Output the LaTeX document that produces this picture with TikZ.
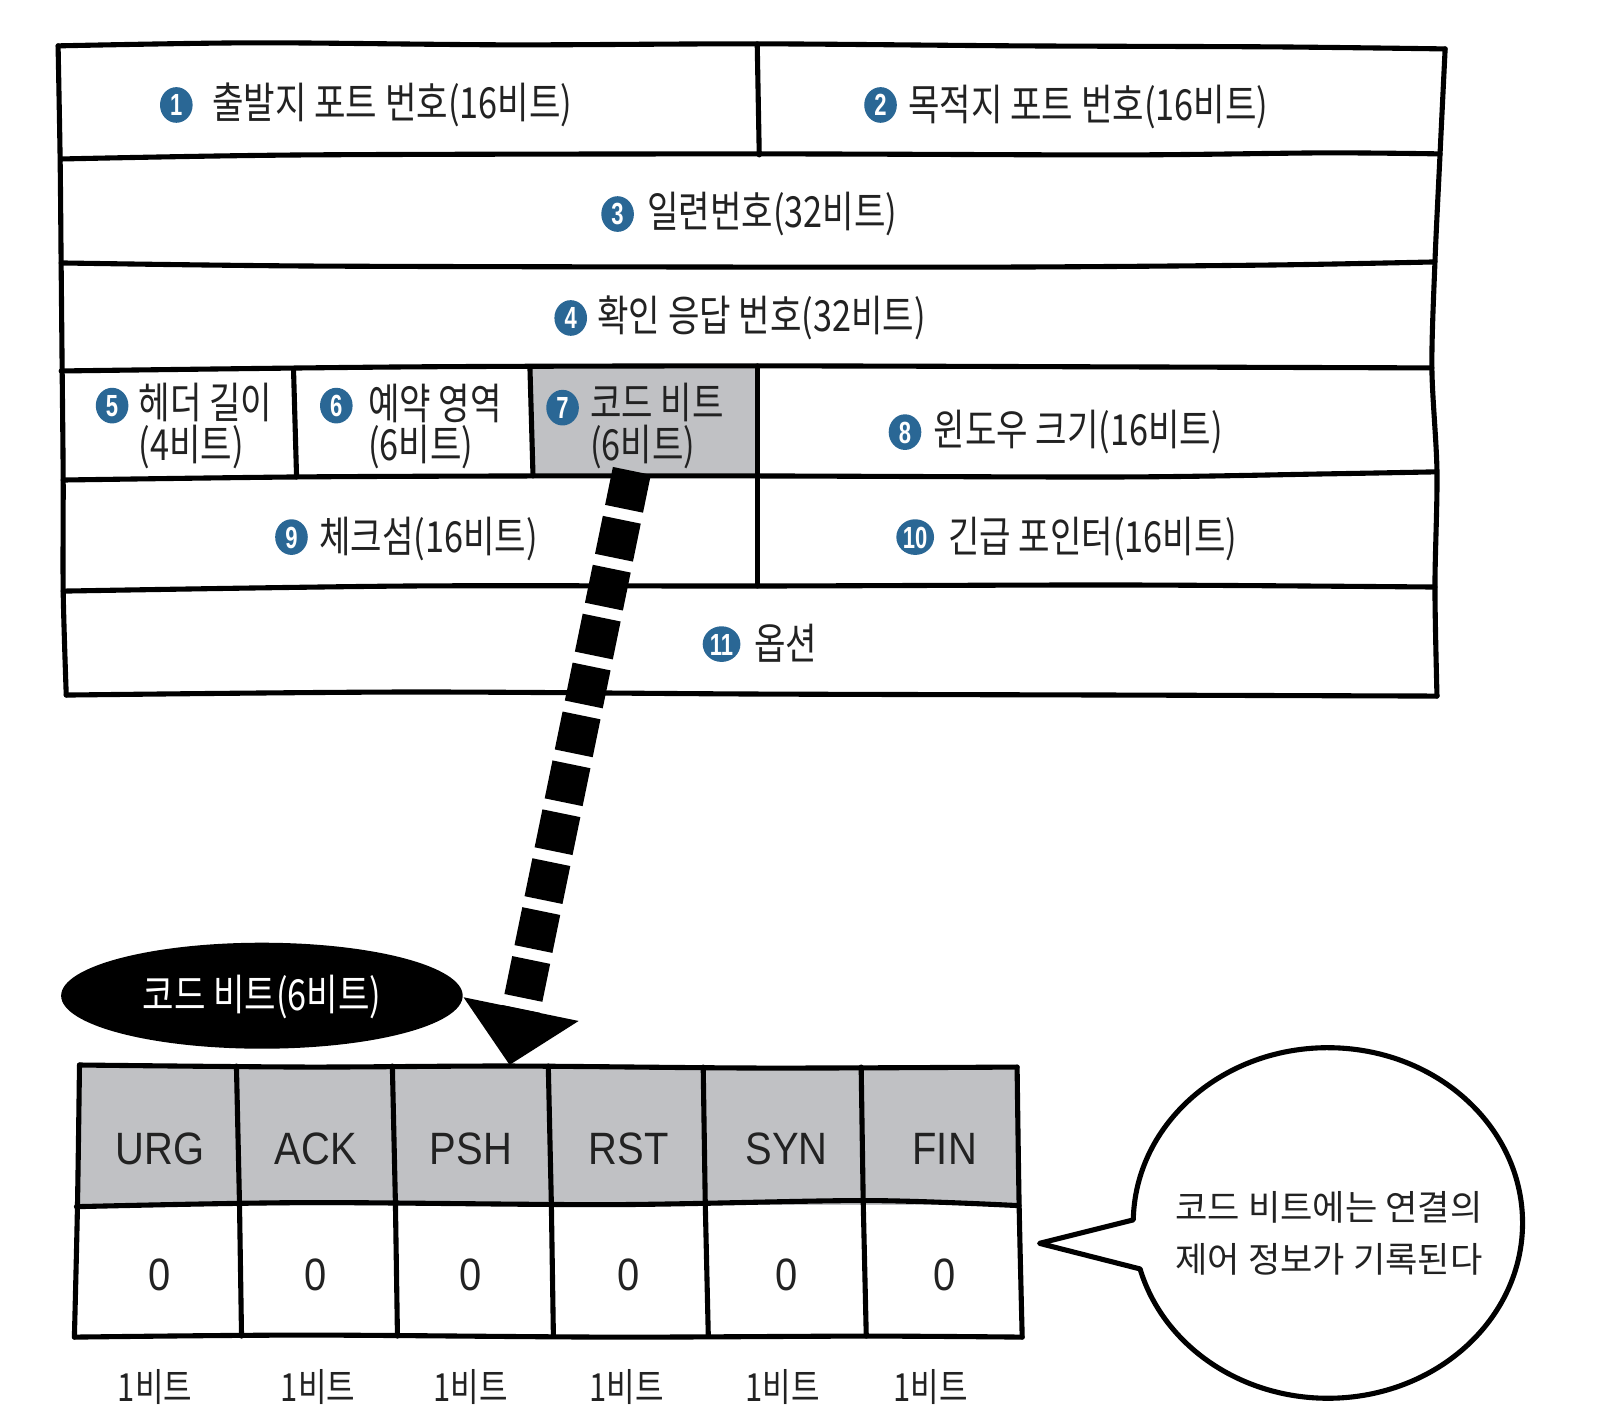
\documentclass[tikz,border=0pt]{standalone}
\usepackage{fontspec}
\usetikzlibrary{arrows.meta,shapes.geometric}
\newfontfamily\krc[FakeStretch=0.8]{Noto Sans CJK KR}
\newfontfamily\kr{Noto Sans CJK KR}
\newfontfamily\hv[FakeStretch=0.88]{Liberation Sans}
\newfontfamily\numf[FakeStretch=0.72]{Liberation Sans}
\definecolor{numblue}{HTML}{2A6795}
\definecolor{cellgrey}{HTML}{C0C1C4}
\definecolor{ink}{HTML}{222222}
\tikzset{
 sketch/.style={line width=5pt, line cap=round, line join=round, draw=black},
 lbl/.style={anchor=west, inner sep=0pt, text=ink, font=\krc\fontsize{42}{48}\selectfont, text height=33pt, text depth=3pt},
 num/.style={ellipse, fill=numblue, text=white, inner sep=0pt, minimum width=32pt, minimum height=35pt, font=\numf\bfseries\fontsize{30}{30}\selectfont, text height=21.5pt, text depth=0pt},
 numw/.style={num, minimum width=37pt},
 flag/.style={text=ink, inner sep=0pt, font=\hv\fontsize{44.5}{44.5}\selectfont, text height=32pt, text depth=0pt},
 bitlbl/.style={text=ink, inner sep=0pt, font=\krc\fontsize{38}{38}\selectfont, text height=30pt, text depth=3pt},
 bubtxt/.style={text=ink, inner sep=0pt, align=center, font=\kr\fontsize{34.5}{51}\selectfont},
 tagell/.style={ellipse, fill=black, text=white, inner sep=0pt, minimum width=394pt, minimum height=104pt, font=\krc\fontsize{42}{42}\selectfont, text height=33pt, text depth=3pt},
 bigarrow/.style={line width=38pt, draw=black, line cap=butt, dash pattern=on 38pt off 11pt, -{Triangle[width=112pt,length=56pt]}},
}
\begin{document}
\begin{tikzpicture}[x=1pt,y=-1pt]
\useasboundingbox (0,0) rectangle (1568,1393);
\fill[white] (0,0) rectangle (1568,1393);

% ---------- TCP header table ----------
\fill[cellgrey] (520,361) -- (743,359) -- (743,468) -- (523,468) -- cycle;
% horizontal lines
\draw[sketch] plot[smooth, tension=0.5] coordinates {(57,45) (250,42) (500,44) (743,43) (1000,45) (1250,46) (1418,48)};
\draw[sketch] plot[smooth, tension=0.5] coordinates {(60,156) (300,152) (743,151) (1100,152) (1300,150) (1413,151)};
\draw[sketch] plot[smooth, tension=0.5] coordinates {(60,258) (300,261) (700,262) (1000,262) (1250,260) (1408,257)};
\draw[sketch] plot[smooth, tension=0.5] coordinates {(60,364) (400,360) (743,359) (1100,360) (1405,361)};
\draw[sketch] plot[smooth, tension=0.5] coordinates {(62,471) (290,468) (520,467) (743,467) (1100,468) (1300,465) (1408,463)};
\draw[sketch] plot[smooth, tension=0.5] coordinates {(62,580) (400,575) (743,575) (1100,574) (1408,576)};
\draw[sketch] plot[smooth, tension=0.5] coordinates {(65,682) (400,679) (743,681) (1100,682) (1410,683)};
% outer verticals
\draw[sketch] plot[smooth, tension=0.5] coordinates {(57,45) (59,156) (60,260) (61,364) (62,471) (62,580) (65,682)};
\draw[sketch] plot[smooth, tension=0.5] coordinates {(1418,48) (1413,151) (1408,257) (1405,361) (1410,463) (1408,576) (1410,683)};
% inner verticals
\draw[sketch] (743,43) -- (745,152);
\draw[sketch] (288,362) -- (291,468);
\draw[sketch] (520,361) -- (523,467);
\draw[sketch] (743,359) -- (743,467);
\draw[sketch] (743,467) -- (743,575);

% labels
\node[num] (n1) at (173,103) {1};
\node[lbl] (t1) at (208,101) {출발지 포트 번호(16비트)};
\node[num] (n2) at (864,103) {2};
\node[lbl] (t2) at (891,103) {목적지 포트 번호(16비트)};
\node[num] (n3) at (606,210) {3};
\node[lbl] (t3) at (635,208) {일련번호(32비트)};
\node[num] (n4) at (560,312) {4};
\node[lbl] (t4) at (586,310) {확인 응답 번호(32비트)};
\node[num] (n5) at (110,398) {5};
\node[lbl] (t5a) at (136,396) {헤더 길이};
\node[lbl] (t5b) at (136,437) {(4비트)};
\node[num] (n6) at (330,398) {6};
\node[lbl] (t6a) at (361,397) {예약 영역};
\node[lbl] (t6b) at (361,437) {(6비트)};
\node[num] (n7) at (552,400) {7};
\node[lbl] (t7a) at (579,396) {코드 비트};
\node[lbl] (t7b) at (579,437) {(6비트)};
\node[num] (n8) at (888,424) {8};
\node[lbl] (t8) at (916,422) {윈도우 크기(16비트)};
\node[num] (n9) at (286,527) {9};
\node[lbl] (t9) at (313,527) {체크섬(16비트)};
\node[numw] (n10) at (898,527) {10};
\node[lbl] (t10) at (930,527) {긴급 포인터(16비트)};
\node[numw] (n11) at (708,632) {11};
\node[lbl] (t11) at (740,632) {옵션};

% ---------- black tag ----------
\node[tagell] (tag) at (257,977) {코드 비트(6비트)};

% ---------- code bits table ----------
\fill[cellgrey] (78,1045) -- (998,1047) -- (1000,1182) -- (75,1183) -- cycle;
\draw[sketch] plot[smooth, tension=0.5] coordinates {(78,1045) (300,1047) (500,1046) (750,1048) (998,1047)};
\draw[sketch] plot[smooth, tension=0.5] coordinates {(75,1184) (300,1180) (600,1182) (850,1178) (1000,1183)};
\draw[sketch] plot[smooth, tension=0.5] coordinates {(73,1312) (300,1310) (600,1312) (850,1311) (1003,1312)};
\draw[sketch] plot[smooth, tension=0.5] coordinates {(78,1045) (76,1184) (73,1312)};
\draw[sketch] plot[smooth, tension=0.5] coordinates {(998,1047) (1000,1183) (1003,1312)};
\draw[sketch] (232,1046) -- (235,1181) -- (237,1311);
\draw[sketch] (385,1046) -- (388,1181) -- (390,1311);
\draw[sketch] (538,1046) -- (541,1181) -- (543,1311);
\draw[sketch] (690,1047) -- (692,1180) -- (695,1311);
\draw[sketch] (845,1047) -- (847,1179) -- (850,1311);

\node[flag] (f1) at (157,1127) {URG};
\node[flag] (f2) at (310,1127) {ACK};
\node[flag] (f3) at (462,1127) {PSH};
\node[flag] (f4) at (617,1127) {RST};
\node[flag] (f5) at (772,1127) {SYN};
\node[flag] (f6) at (927,1127) {FIN};
\foreach \i/\x in {1/157,2/310,3/462,4/617,5/772,6/927}
  \node[flag] (z\i) at (\x,1250) {0};
\foreach \i/\x in {1/152,2/312,3/462,4/615,5/768,6/913}
  \node[bitlbl] (b\i) at (\x,1362) {1비트};

% ---------- speech bubble ----------
\coordinate (btip) at (1020,1220);
\draw[sketch, fill=white] (btip) -- (1112,1197)
  arc[start angle=181, end angle=524.8, x radius=191, y radius=172] -- cycle;
\node[bubtxt] (bt) at (1304,1210) {코드 비트에는 연결의\\제어 정보가 기록된다};

% ---------- dashed arrow ----------
\coordinate (arrS) at (620,462);
\coordinate (arrE) at (500,1045);
\draw[bigarrow] (arrS) -- (arrE);
\end{tikzpicture}
\end{document}
